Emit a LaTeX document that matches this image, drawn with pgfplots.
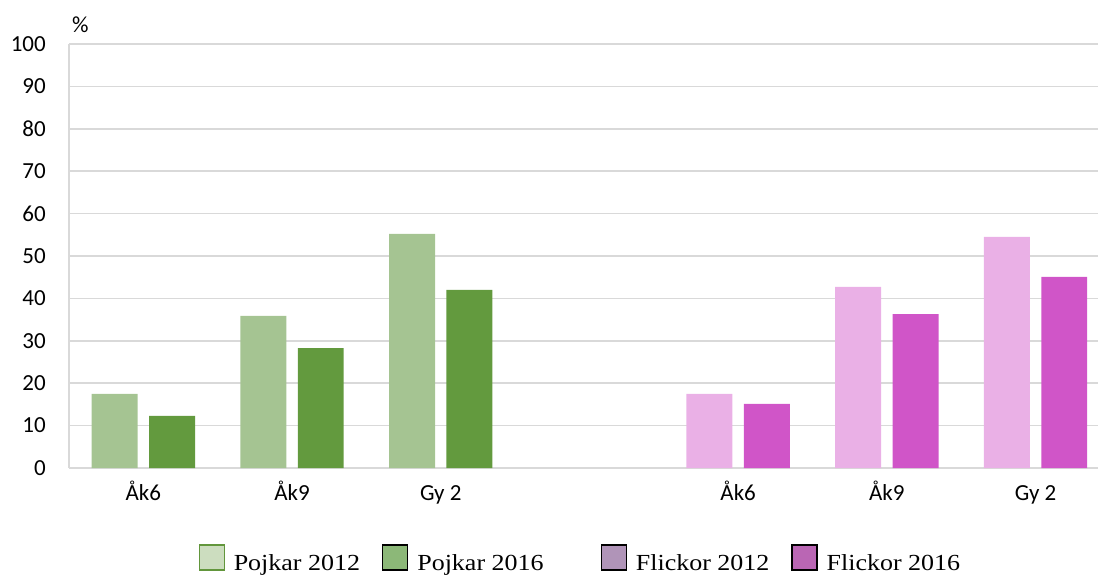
\documentclass[border=0pt]{standalone}
\usepackage{fontspec}
\setmainfont{Carlito}
\newfontfamily\legfont[FakeStretch=1.13]{Liberation Serif}
\usepackage{pgfplots}
\pgfplotsset{compat=1.18}
\definecolor{p12}{RGB}{165,196,146}
\definecolor{p16}{RGB}{99,154,62}
\definecolor{f12}{RGB}{234,176,230}
\definecolor{f16}{RGB}{208,85,200}
\definecolor{lp12}{RGB}{204,221,191}
\definecolor{lp12b}{RGB}{98,150,60}
\definecolor{lp16}{RGB}{140,184,120}
\definecolor{lf12}{RGB}{176,148,184}
\definecolor{lf16}{RGB}{186,102,180}
\definecolor{gridc}{RGB}{217,217,217}
\begin{document}
\begin{tikzpicture}
\begin{axis}[
  scale only axis,
  width=1029pt, height=424pt,
  xmin=-0.5, xmax=6.42,
  ymin=0, ymax=100,
  clip=false,
  ytick={0,10,...,100},
  xtick={0,1,2,4,5,6},
  xticklabels={Åk6,Åk9,Gy 2,Åk6,Åk9,Gy 2},
  ybar, bar width=0.309,
  axis x line*=bottom, axis y line*=left,
  axis line style={draw=gridc, line width=1.5pt, -},
  ymajorgrids, major grid style={draw=gridc, line width=1.5pt},
  major tick length=0pt,
  /pgf/number format/assume math mode=true,
  tick label style={font=\fontsize{23}{27}\selectfont, text=black},
  yticklabel style={anchor=east, inner sep=0pt, xshift=-23pt},
  xticklabel style={anchor=base, inner sep=0pt, yshift=-32pt},
  legend columns=4,
  legend style={draw=none, fill=none, inner sep=0pt, at={(0.496,-0.245)}, anchor=south,
    font=\legfont\fontsize{23}{27}\selectfont,
    nodes={inner sep=0pt},
    /tikz/every odd column/.append style={column sep=9pt},
    /tikz/every even column/.append style={column sep=22pt}},
]
\addplot[fill=p12, draw=none, bar shift=-0.193, forget plot] coordinates {(0,17.5) (1,35.9) (2,55.2)};
\addplot[fill=p16, draw=none, bar shift=0.193, forget plot] coordinates {(0,12.3) (1,28.3) (2,42.0)};
\addplot[fill=f12, draw=none, bar shift=-0.193, forget plot] coordinates {(4,17.5) (5,42.7) (6,54.5)};
\addplot[fill=f16, draw=none, bar shift=0.193, forget plot] coordinates {(4,15.1) (5,36.3) (6,45.1)};
\addlegendimage{legend image code/.code={\draw[fill=lp12, draw=lp12b, line width=1.2pt] (0pt,-7pt) rectangle (25pt,18pt);}}
\addlegendentry{Pojkar 2012}
\addlegendimage{legend image code/.code={\draw[fill=lp16, draw=black, line width=1.2pt] (0pt,-7pt) rectangle (25pt,18pt);}}
\addlegendentry{Pojkar 2016\hspace*{35pt}}
\addlegendimage{legend image code/.code={\draw[fill=lf12, draw=black, line width=1.2pt] (0pt,-7pt) rectangle (25pt,18pt);}}
\addlegendentry{Flickor 2012}
\addlegendimage{legend image code/.code={\draw[fill=lf16, draw=black, line width=1.2pt] (0pt,-7pt) rectangle (25pt,18pt);}}
\addlegendentry{Flickor 2016}
\node[anchor=base west, inner sep=0pt, font=\fontsize{23}{27}\selectfont] at (rel axis cs:0,1) [xshift=3pt, yshift=11pt] {\%};
\end{axis}
\pgfresetboundingbox
\useasboundingbox (-69pt,-108pt) rectangle (1030pt,468pt);
\end{tikzpicture}
\end{document}
